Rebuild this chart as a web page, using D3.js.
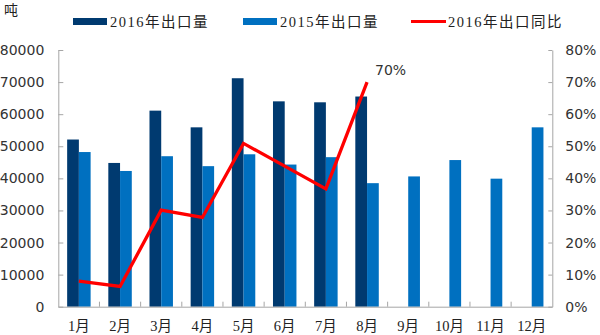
<!DOCTYPE html>
<html><head><meta charset="utf-8">
<script src="https://cdn.jsdelivr.net/npm/d3@7"></script>
<style>body{margin:0;background:#fff}svg{display:block}</style>
</head><body>
<svg id="c" width="600" height="335"></svg>
<script>
const months = ["1月","2月","3月","4月","5月","6月","7月","8月","9月","10月","11月","12月"];
const export2016 = [52100,44800,61100,55900,71200,64000,63700,65500,null,null,null,null];
const export2015 = [48200,42300,46900,43800,47500,44300,46600,38500,40600,45700,39900,55900];
const yoy2016 = [0.080,0.063,0.301,0.278,0.509,0.438,0.367,0.700];
const leftTicks = [0,10000,20000,30000,40000,50000,60000,70000,80000];
const rightTicks = [0,0.1,0.2,0.3,0.4,0.5,0.6,0.7,0.8];
const seriesNames = ["2016年出口量","2015年出口量","2016年出口同比"];
const colors = {dark:"#003a70", light:"#0070c0", red:"#ff0000", axis:"#a6a6a6", text:"#333333"};

const svg = d3.select("#c");
const L = 58.3, R = 552.3, T = 50, B = 306.7;
const x = d3.scaleBand().domain(months).range([L,R]).padding(0);
const bw = x.bandwidth();
const xs = d3.scaleBand().domain(["2016","2015"]).range([bw*0.215,bw*0.785]).padding(0);
const y = d3.scaleLinear().domain([0,80000]).range([B,T]);
const y2 = d3.scaleLinear().domain([0,0.8]).range([B,T]);

const numFont = "'DejaVu Sans', sans-serif";
const cjkFont = "'Liberation Serif','Noto Sans CJK SC',serif";

// bars
const g = svg.append("g");
g.selectAll("rect.d").data(months.map((m,i)=>({m,v:export2016[i]})).filter(d=>d.v!=null))
 .join("rect").attr("x",d=>x(d.m)+xs("2016")).attr("width",xs.bandwidth())
 .attr("y",d=>y(d.v)).attr("height",d=>B-y(d.v)).attr("fill",colors.dark);
g.selectAll("rect.l").data(months.map((m,i)=>({m,v:export2015[i]})))
 .join("rect").attr("x",d=>x(d.m)+xs("2015")).attr("width",xs.bandwidth())
 .attr("y",d=>y(d.v)).attr("height",d=>B-y(d.v)).attr("fill",colors.light);

// left axis
const ax = svg.append("g").attr("transform",`translate(${L},0)`)
 .call(d3.axisLeft(y).tickValues(leftTicks).tickFormat(d3.format("d")).tickSizeInner(-5).tickSizeOuter(0).tickPadding(14));
ax.selectAll("path,line").attr("stroke",colors.axis);
ax.selectAll("text").attr("font-family",numFont).attr("font-size",14).attr("fill",colors.text);

// right axis
const ar = svg.append("g").attr("transform",`translate(${R},0)`)
 .call(d3.axisRight(y2).tickValues(rightTicks).tickFormat(d3.format(".0%")).tickSizeInner(-4).tickSizeOuter(0).tickPadding(13));
ar.selectAll("path,line").attr("stroke",colors.axis);
ar.selectAll("text").attr("font-family",numFont).attr("font-size",14).attr("fill",colors.text);

// x axis
const axb = svg.append("g").attr("transform",`translate(0,${B})`)
 .call(d3.axisBottom(x).tickSize(0).tickPadding(14));
axb.select("path").attr("stroke",colors.axis);
axb.selectAll("text").attr("font-family",cjkFont).attr("font-size",14.5).attr("fill","#222");
svg.append("g").selectAll("line").data(months.slice(1)).join("line")
 .attr("x1",d=>x(d)).attr("x2",d=>x(d)).attr("y1",B).attr("y2",B-5).attr("stroke",colors.axis);

// line
const line = d3.line().x((d,i)=>x(months[i])+bw/2).y(d=>y2(d));
svg.append("path").datum(yoy2016).attr("d",line).attr("fill","none")
 .attr("stroke",colors.red).attr("stroke-width",3.3).attr("stroke-linejoin","miter");
svg.append("text").attr("x",x(months[7])+bw/2+8).attr("y",y2(yoy2016[7])-7)
 .attr("font-family",numFont).attr("font-size",14).attr("fill",colors.text).text(d3.format(".0%")(yoy2016[7]));

// unit
svg.append("text").attr("x",4).attr("y",15).attr("font-family","'Noto Sans CJK SC',sans-serif")
 .attr("font-size",14).attr("fill","#222").text("吨");

// legend
const leg = [{x:73,c:colors.dark,t:"rect"},{x:243,c:colors.light,t:"rect"},{x:411,c:colors.red,t:"line"}];
leg.forEach((l,i)=>{
  if(l.t==="rect") svg.append("rect").attr("x",l.x).attr("y",18).attr("width",34).attr("height",7).attr("fill",l.c);
  else svg.append("line").attr("x1",l.x).attr("x2",l.x+35).attr("y1",21.5).attr("y2",21.5).attr("stroke",l.c).attr("stroke-width",3);
  svg.append("text").attr("x",l.x+37).attr("y",27).attr("font-family",cjkFont).attr("font-size",14.5)
   .attr("letter-spacing",1.5).attr("fill","#222").text(seriesNames[i]);
});
</script>
</body></html>
